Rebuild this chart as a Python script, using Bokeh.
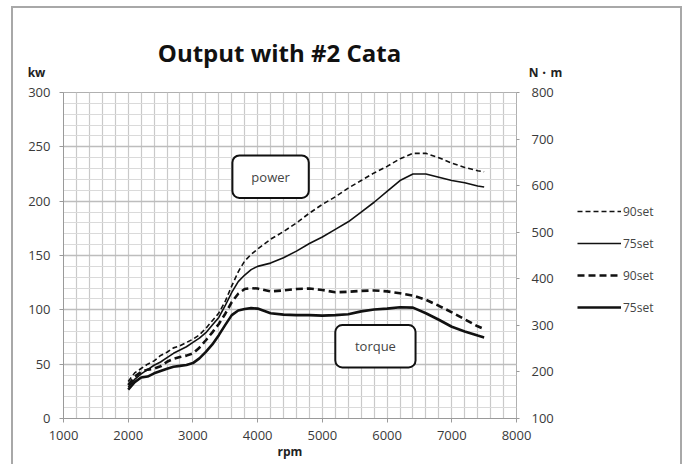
from bokeh.plotting import figure
from bokeh.models import (Range1d, LinearAxis, FixedTicker, Legend, LegendItem,
                          BoxAnnotation, Label)
from bokeh.layouts import column, row
from bokeh.embed import file_html
from bokeh.resources import INLINE

# ---------------- data ----------------
rpm = [2000, 2100, 2200, 2300, 2400, 2500, 2600, 2700, 2800, 2900, 3000, 3100, 3200,
       3300, 3400, 3500, 3600, 3700, 3800, 3900, 4000, 4200, 4400, 4600, 4800, 5000,
       5200, 5400, 5600, 5800, 6000, 6200, 6400, 6600, 6800, 7000, 7200, 7400, 7500]

power_90set = [34, 42, 46, 50, 53, 58, 61, 65, 67, 70, 73, 77, 83,
               90, 97, 108, 122, 135, 145, 151, 156, 165, 172, 180, 189, 197,
               204, 212, 219, 226, 232, 239, 244, 244, 240, 235, 231, 228, 227]

power_75set = [29, 36, 41, 45, 49, 52, 56, 60, 63, 66, 70, 74, 79,
               86, 93, 104, 116, 126, 132, 137, 140, 143, 148, 154, 161, 167,
               174, 181, 190, 199, 209, 219, 225, 225, 222, 219, 217, 214, 213]

torque_90set = [172, 190, 200, 205, 207, 212, 222, 228, 232, 235, 240, 252, 268,
                285, 303, 325, 350, 368, 378, 380, 379, 373, 375, 378, 379, 376,
                371, 372, 374, 375, 373, 369, 364, 355, 342, 328, 313, 298, 292]

torque_75set = [162, 178, 188, 190, 197, 202, 207, 211, 213, 215, 219, 229, 243,
                259, 279, 301, 322, 332, 335, 337, 336, 326, 323, 322, 322, 321,
                322, 324, 330, 334, 336, 339, 338, 326, 312, 297, 287, 278, 274]

x_ticks = [1000, 2000, 3000, 4000, 5000, 6000, 7000, 8000]
kw_ticks = [0, 50, 100, 150, 200, 250, 300]
nm_ticks = [100, 200, 300, 400, 500, 600, 700, 800]
legend_labels = ["90set", "75set", "90set", "75set"]

title_text = "Output with #2 Cata"
left_unit = "kw"
right_unit = "N・m"
x_unit = "rpm"
FONT = "Open Sans"
INK = "#111111"


def bare(fig):
    fig.xaxis.visible = False
    fig.yaxis.visible = False
    fig.xgrid.visible = False
    fig.ygrid.visible = False
    fig.outline_line_color = None
    fig.background_fill_color = "white"
    fig.border_fill_color = "white"


# ---------------- heading strip (title + unit labels) ----------------
head = figure(width=667, height=76, output_backend="svg", toolbar_location=None,
              x_range=Range1d(0, 1), y_range=Range1d(0, 1),
              min_border=0)
bare(head)
head.add_layout(Label(x=266, y=32, x_units="screen", y_units="screen", text=title_text,
                      text_align="center", text_baseline="middle", text_font=FONT,
                      text_font_style="bold", text_font_size="24px", text_color=INK))
head.add_layout(Label(x=23, y=12, x_units="screen", y_units="screen", text=left_unit,
                      text_align="center", text_baseline="middle", text_font=FONT,
                      text_font_style="bold", text_font_size="12px", text_color="#222222"))
head.add_layout(Label(x=532, y=12, x_units="screen", y_units="screen", text=right_unit,
                      text_align="center", text_baseline="middle", text_font=FONT,
                      text_font_style="bold", text_font_size="12px", text_color="#222222"))

# ---------------- main chart ----------------
p = figure(width=557, height=380, output_backend="svg", toolbar_location=None,
           x_range=Range1d(1000, 8000), y_range=Range1d(0, 300),
           min_border_left=50, min_border_right=54, min_border_top=8,
           min_border_bottom=46)
p.background_fill_color = "white"
p.border_fill_color = "white"
p.outline_line_color = "#b0b0b0"
p.outline_line_width = 1

p.extra_y_ranges = {"torque": Range1d(100, 800)}

# grids
p.xgrid.ticker = FixedTicker(ticks=list(range(1000, 8001, 200)))
p.xgrid.grid_line_color = "#c9c9c9"
p.xgrid.grid_line_width = 1.2
p.ygrid.ticker = FixedTicker(ticks=kw_ticks, minor_ticks=list(range(0, 301, 10)))
p.ygrid.grid_line_color = "#bdbdbd"
p.ygrid.grid_line_width = 1.3
p.ygrid.minor_grid_line_color = "#dadada"
p.ygrid.minor_grid_line_width = 1

# axes
for ax in (p.xaxis[0], p.yaxis[0]):
    ax.axis_line_color = "#9a9a9a"
    ax.major_tick_line_color = "#9a9a9a"
    ax.minor_tick_line_color = None
    ax.major_tick_in = 0
    ax.major_tick_out = 4
    ax.major_label_text_font = FONT
    ax.major_label_text_font_size = "13px"
    ax.major_label_text_color = "#3a3a3a"

p.xaxis.ticker = FixedTicker(ticks=x_ticks)
p.xaxis.major_label_standoff = 8
p.xaxis.axis_label = x_unit
p.xaxis.axis_label_standoff = 0
p.xaxis.axis_label_text_font = FONT
p.xaxis.axis_label_text_font_style = "bold"
p.xaxis.axis_label_text_font_size = "12px"
p.xaxis.axis_label_text_color = "#222222"
p.yaxis.ticker = FixedTicker(ticks=kw_ticks)
p.yaxis.major_label_standoff = 9

right_axis = LinearAxis(y_range_name="torque", ticker=FixedTicker(ticks=nm_ticks))
right_axis.axis_line_color = None
right_axis.major_tick_line_color = "#9a9a9a"
right_axis.major_tick_in = 0
right_axis.major_tick_out = 3
right_axis.minor_tick_line_color = None
right_axis.major_label_standoff = 12
right_axis.major_label_text_font = FONT
right_axis.major_label_text_font_size = "13px"
right_axis.major_label_text_color = "#3a3a3a"
p.add_layout(right_axis, "right")

# line styles (used in the chart and in its legend)
styles = [dict(line_color=INK, line_width=1.6, line_dash="5 3"),
          dict(line_color=INK, line_width=1.6),
          dict(line_color=INK, line_width=2.6, line_dash="7 4"),
          dict(line_color=INK, line_width=2.6)]

p.line(rpm, power_90set, **styles[0])
p.line(rpm, power_75set, **styles[1])
p.line(rpm, torque_90set, y_range_name="torque", **styles[2])
p.line(rpm, torque_75set, y_range_name="torque", **styles[3])

# annotation boxes
p.add_layout(BoxAnnotation(left=3610, right=4790, bottom=203, top=242,
                           fill_color="white", fill_alpha=1, line_color=INK,
                           line_alpha=1, line_width=2, border_radius=7,
                           level="annotation"))
p.add_layout(BoxAnnotation(left=5200, right=6440, bottom=47, top=86,
                           fill_color="white", fill_alpha=1, line_color=INK,
                           line_alpha=1, line_width=2, border_radius=7,
                           level="annotation"))
p.add_layout(Label(x=4200, y=222.5, text="power", text_align="center",
                   text_baseline="middle", text_font=FONT, text_font_size="13px",
                   text_color="#444444"))
p.add_layout(Label(x=5820, y=66.5, text="torque", text_align="center",
                   text_baseline="middle", text_font=FONT, text_font_size="13px",
                   text_color="#444444"))

# ---------------- legend panel ----------------
leg = figure(width=110, height=380, output_backend="svg", toolbar_location=None,
             x_range=Range1d(0, 1), y_range=Range1d(0, 1), min_border=0)
bare(leg)
series = [power_90set, power_75set, torque_90set, torque_75set]
keys = [leg.line(rpm, s, **st) for s, st in zip(series, styles)]  # outside view
legend = Legend(items=[LegendItem(label=lab, renderers=[k])
                       for lab, k in zip(legend_labels, keys)],
                location=(7, 101), padding=0, margin=0, spacing=12,
                glyph_width=44, glyph_height=20, label_height=20, label_standoff=2,
                label_text_font=FONT, label_text_font_size="12px",
                label_text_color="#444444",
                border_line_alpha=0, background_fill_alpha=0)
leg.add_layout(legend, "center")

layout = column(head, row(p, leg))
layout.styles = {"border": "2px solid #a8a8a8", "border-bottom": "none",
                 "margin-left": "11px", "margin-top": "6px"}

open("out.html", "w").write(file_html(layout, INLINE))
